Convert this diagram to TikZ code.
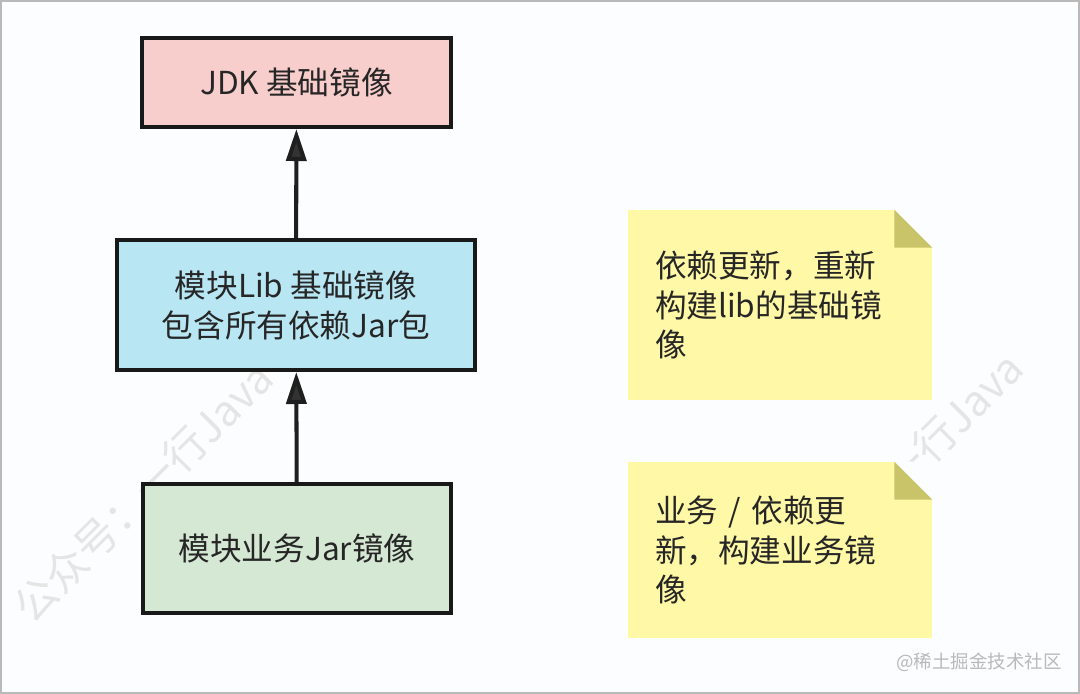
\documentclass[tikz,border=0pt]{standalone}
\usepackage{fontspec}
\setmainfont{Noto Sans CJK SC}
\usetikzlibrary{arrows.meta}
\definecolor{jdkfill}{HTML}{F8CECC}
\definecolor{libfill}{HTML}{B8E6F3}
\definecolor{bizfill}{HTML}{D5E8D4}
\definecolor{notefill}{HTML}{FFF8A6}
\definecolor{foldfill}{HTML}{C9C46A}
\definecolor{pagebg}{HTML}{FBFDFE}
\begin{document}
\begin{tikzpicture}[
                    x=0.02cm, y=-0.02cm,
                    txt/.style={font=\fontsize{18}{22.7}\selectfont, text=black!85},
                    box/.style={txt, draw=black!90, line width=2.3pt, align=center, inner sep=0pt},
                    note/.style={txt, fill=notefill, text width=5cm, inner xsep=0.54cm,
                                 inner ysep=0pt, minimum width=6.08cm, align=left},
                    link/.style={draw=black!88, line width=2.3pt,
                                 -{Triangle[length=0.64cm, width=0.4cm, fill=black!80]}},
                    wmark/.style={text=gray!20, font=\fontsize{24}{28}\selectfont, rotate=45}
                ]
                \useasboundingbox (0,0) rectangle (1080,694);
                \fill[pagebg] (0,0) rectangle (1080,694);
                \draw[gray!55, line width=1pt] (1,1) rectangle (1079,693);

                % watermarks
                \node[wmark] (wm1) at (143,492) {公众号：一行Java};
                \node[wmark] (wm2) at (893,482) {公众号：一行Java};
                \node[text=gray!55, font=\fontsize{10.5}{12}\selectfont] (wm3) at (979,662) {@稀土掘金技术社区};

                \node[box, fill=jdkfill, minimum width=6.18cm, minimum height=1.78cm] (jdk) at (296.5,82.5) {JDK 基础镜像};
                \node[box, fill=libfill, minimum width=7.16cm, minimum height=2.6cm] (lib) at (296,305) {模块Lib 基础镜像\\包含所有依赖Jar包};
                \node[box, fill=bizfill, minimum width=6.16cm, minimum height=2.58cm] (biz) at (297,548.5) {模块业务Jar镜像};

                \draw[link] (lib) -- (jdk);
                \draw[link] (biz) -- (lib);

                \node[note, minimum height=3.8cm] (note1) at (780,305) {依赖更新，重新\\构建lib的基础镜\\像};
                \node[note, minimum height=3.52cm] (note2) at (780,550) {业务 / 依赖更\\新，构建业务镜\\像};

                \foreach \n in {note1, note2} {
                    \fill[pagebg] (\n.north east) -- ++(-38,0) -- ++(38,38) -- cycle;
                    \fill[foldfill] (\n.north east) ++(-38,0) -- ++(0,38) -- ++(38,0) -- cycle;
                }

            \end{tikzpicture}
\end{document}
